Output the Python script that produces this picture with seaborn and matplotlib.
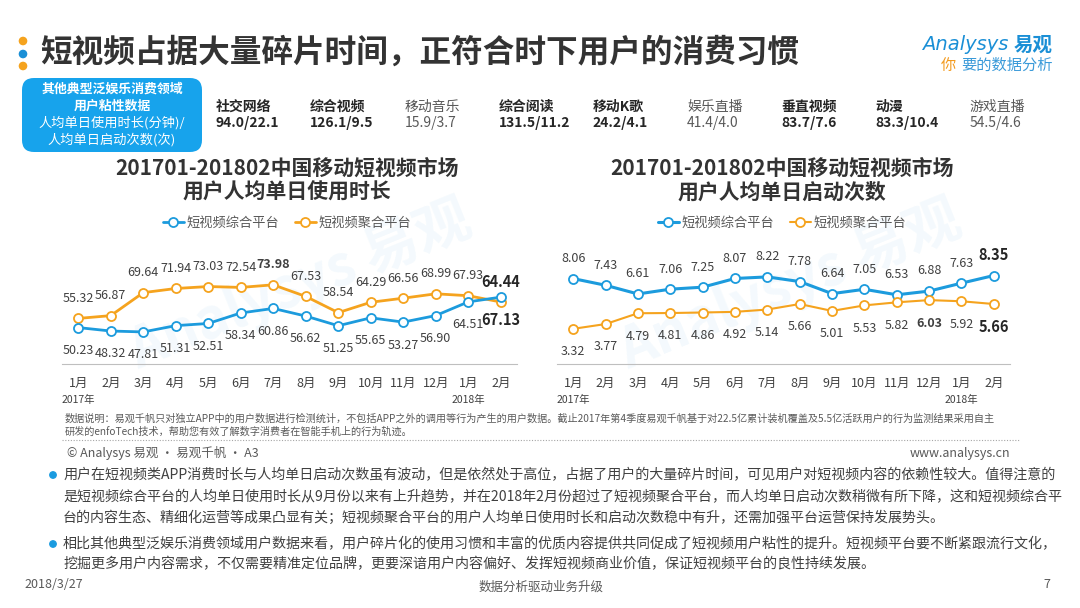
import matplotlib
matplotlib.use("Agg")
import matplotlib.pyplot as plt
from matplotlib.patches import FancyBboxPatch, Circle
import seaborn as sns

sns.set_style("white")
plt.rcParams['font.family'] = ['Noto Sans CJK SC', 'DejaVu Sans']
plt.rcParams['axes.unicode_minus'] = False

# === 数据 ===
months = ['1月', '2月', '3月', '4月', '5月', '6月', '7月', '8月', '9月', '10月', '11月', '12月', '1月', '2月']
dur_zonghe = [50.23, 48.32, 47.81, 51.31, 52.51, 58.34, 60.86, 56.62, 51.25, 55.65, 53.27, 56.90, 64.51, 67.13]
dur_juhe = [55.32, 56.87, 69.64, 71.94, 73.03, 72.54, 73.98, 67.53, 58.54, 64.29, 66.56, 68.99, 67.93, 64.44]
cnt_zonghe = [8.06, 7.43, 6.61, 7.06, 7.25, 8.07, 8.22, 7.78, 6.64, 7.05, 6.53, 6.88, 7.63, 8.35]
cnt_juhe = [3.32, 3.77, 4.79, 4.81, 4.86, 4.92, 5.14, 5.66, 5.01, 5.53, 5.82, 6.03, 5.92, 5.66]

# 其他泛娱乐领域 (时长/次数)
other_names = ['社交网络', '综合视频', '移动音乐', '综合阅读', '移动K歌', '娱乐直播', '垂直视频', '动漫', '游戏直播']
other_values = ['94.0/22.1', '126.1/9.5', '15.9/3.7', '131.5/11.2', '24.2/4.1', '41.4/4.0', '83.7/7.6', '83.3/10.4', '54.5/4.6']
other_bold = [True, True, False, True, True, False, True, True, False]

BLUE = '#1C9BDD'
ORANGE = '#F5A31E'
DARK = '#333333'
GRAY = '#595959'
LAB_ZH = '短视频综合平台'
LAB_JH = '短视频聚合平台'

W, H = 1080, 608
fig = plt.figure(figsize=(10.8, 6.08), dpi=100)

# 背景层，像素坐标
bg = fig.add_axes([0, 0, 1, 1])
bg.set_xlim(0, W)
bg.set_ylim(H, 0)
bg.axis('off')

# 标题 + 三个点
for yy, c in zip([41, 54, 66], [ORANGE, '#1A8FD6', ORANGE]):
    bg.add_patch(Circle((23, yy), 3.6, color=c))
bg.text(40, 53, '短视频占据大量碎片时间，正符合时下用户的消费习惯', fontsize=22.8,
        fontweight='bold', color=DARK, va='center', ha='left')

# logo
bg.text(922, 45, 'Analysys', fontsize=14, style='italic', color='#1A8FD6',
        va='center', ha='left', family=['DejaVu Sans'])
bg.text(1053, 45, '易观', fontsize=14, fontweight='bold', color='#1A8FD6', va='center', ha='right')
bg.text(941, 65, '你', fontsize=11, color='#F39A1E', va='center', ha='left')
bg.text(1053, 65, '要的数据分析', fontsize=11, color='#3A9AD9', va='center', ha='right')

# 左上蓝框
bg.add_patch(FancyBboxPatch((22, 78), 180, 74, boxstyle="round,pad=0,rounding_size=12",
                            fc='#17A3EC', ec='none'))
bg.text(112, 89, '其他典型泛娱乐消费领域', fontsize=9.3, fontweight='bold', color='white', ha='center', va='center')
bg.text(112, 106, '用户粘性数据', fontsize=9.3, fontweight='bold', color='white', ha='center', va='center')
bg.text(112, 123, '人均单日使用时长(分钟)/', fontsize=9.5, color='white', ha='center', va='center')
bg.text(112, 140, '人均单日启动次数(次)', fontsize=9.5, color='white', ha='center', va='center')

# 其他领域数据
for i, (n, v, b) in enumerate(zip(other_names, other_values, other_bold)):
    x0 = 216 + i * 94.2
    w = 'bold' if b else 'normal'
    c = '#262626' if b else GRAY
    bg.text(x0, 107, n, fontsize=10, fontweight=w, color=c, ha='left', va='center')
    bg.text(x0, 123, v, fontsize=10, fontweight=w, color=c, ha='left', va='center')

# 水印
for cx in [300, 790]:
    bg.text(cx, 285, 'Analysys 易观', fontsize=40, color='#1A8FD6', alpha=0.05,
            rotation=22, ha='center', va='center', fontweight='bold')


def draw_chart(rect, top_vals, low_vals, top_color, low_color, top_lab, low_lab,
               ylim, title_x, title2, lw_top, lw_low):
    ax = fig.add_axes(rect)
    ax.set_facecolor('none')
    x = list(range(len(months)))
    sns.lineplot(x=x, y=top_vals, ax=ax, color=top_color, marker='o', markersize=6.5,
                 markerfacecolor='white', markeredgecolor=top_color, markeredgewidth=1.3,
                 linewidth=lw_top, label=top_lab, zorder=3)
    sns.lineplot(x=x, y=low_vals, ax=ax, color=low_color, marker='o', markersize=6.5,
                 markerfacecolor='white', markeredgecolor=low_color, markeredgewidth=1.3,
                 linewidth=lw_low, label=low_lab, zorder=3)
    ax.set_xlim(-0.5, 13.5)
    ax.set_ylim(*ylim)
    ax.set_yticks([])
    ax.set_xticks(x, months)
    ax.tick_params(axis='x', length=0, pad=9, labelsize=9, labelcolor='#404040')
    for s in ['top', 'left', 'right']:
        ax.spines[s].set_visible(False)
    ax.spines['bottom'].set_color('#BFBFBF')
    ax.spines['bottom'].set_linewidth(0.8)

    for vals, dy in [(top_vals, 14.5), (low_vals, -16.5)]:
        vmax = max(vals)
        for i, v in enumerate(vals):
            last = i == len(vals) - 1
            ax.annotate(f'{v:.2f}', xy=(i, v), xytext=(0, dy), textcoords='offset points',
                        ha='center', va='center',
                        fontsize=10.5 if last else 9,
                        fontweight='bold' if (last or v == vmax) else 'normal',
                        color='#262626' if last else '#404040')

    for i, yr in [(0, '2017年'), (12, '2018年')]:
        ax.annotate(yr, xy=(i, 0), xycoords=('data', 'axes fraction'), xytext=(0, -26),
                    textcoords='offset points', ha='center', va='center', fontsize=7.5,
                    color='#404040')

    # 图例顺序：综合在前，聚合在后
    handles, labels = ax.get_legend_handles_labels()
    order = [labels.index(LAB_ZH), labels.index(LAB_JH)]
    leg = ax.legend([handles[k] for k in order], [labels[k] for k in order],
                    loc='center', bbox_to_anchor=(title_x / W, 1 - 223 / H),
                    bbox_transform=fig.transFigure, ncol=2, frameon=False, fontsize=9.5,
                    handlelength=1.6, handletextpad=0.2, columnspacing=1.2)
    for t in leg.get_texts():
        t.set_color(GRAY)

    bg.text(title_x, 168, '201701-201802中国移动短视频市场', fontsize=15, fontweight='bold',
            color=DARK, ha='center', va='center')
    bg.text(title_x, 192, title2, fontsize=15, fontweight='bold', color=DARK,
            ha='center', va='center')
    return ax


ax_h = (364 - 245) / H
draw_chart([62 / W, 1 - 364 / H, 455 / W, ax_h], dur_juhe, dur_zonghe, ORANGE, BLUE,
           LAB_JH, LAB_ZH, (30, 96.1), 287, '用户人均单日使用时长', 2.0, 2.0)
draw_chart([557 / W, 1 - 364 / H, 453 / W, ax_h], cnt_zonghe, cnt_juhe, BLUE, ORANGE,
           LAB_ZH, LAB_JH, (0, 11.23), 782, '用户人均单日启动次数', 2.2, 1.5)

# 数据说明
bg.text(65, 419, '数据说明：易观千帆只对独立APP中的用户数据进行检测统计，不包括APP之外的调用等行为产生的用户数据。'
        '截止2017年第4季度易观千帆基于对22.5亿累计装机覆盖及5.5亿活跃用户的行为监测结果采用自主',
        fontsize=7.3, color=GRAY, ha='left', va='center')
bg.text(65, 432, '研发的enfoTech技术，帮助您有效了解数字消费者在智能手机上的行为轨迹。',
        fontsize=7.3, color=GRAY, ha='left', va='center')
bg.plot([62, 1019], [440, 440], ls=(0, (1, 1.5)), color='#A6A6A6', lw=0.8)
bg.text(67, 453, '© Analysys 易观 · 易观千帆 · A3', fontsize=9, color=GRAY, ha='left', va='center')
bg.text(1010, 453, 'www.analysys.cn', fontsize=9, color=GRAY, ha='right', va='center')

# 正文
para = [
    (475, '用户在短视频类APP消费时长与人均单日启动次数虽有波动，但是依然处于高位，占据了用户的大量碎片时间，可见用户对短视频内容的依赖性较大。值得注意的', True),
    (497, '是短视频综合平台的人均单日使用时长从9月份以来有上升趋势，并在2018年2月份超过了短视频聚合平台，而人均单日启动次数稍微有所下降，这和短视频综合平', False),
    (518, '台的内容生态、精细化运营等成果凸显有关；短视频聚合平台的用户人均单日使用时长和启动次数稳中有升，还需加强平台运营保持发展势头。', False),
    (544, '相比其他典型泛娱乐消费领域用户数据来看，用户碎片化的使用习惯和丰富的优质内容提供共同促成了短视频用户粘性的提升。短视频平台要不断紧跟流行文化，', True),
    (564, '挖掘更多用户内容需求，不仅需要精准定位品牌，更要深谙用户内容偏好、发挥短视频商业价值，保证短视频平台的良性持续发展。', False),
]
for yy, line, bullet in para:
    if bullet:
        bg.add_patch(Circle((53, yy), 3.2, color='#1A9BE0'))
    bg.text(63, yy, line, fontsize=10.1, color='#404040', ha='left', va='center')

# 页脚
bg.text(24, 585, '2018/3/27', fontsize=9, color=GRAY, ha='left', va='center')
bg.text(541, 587, '数据分析驱动业务升级', fontsize=9, color=GRAY, ha='center', va='center')
bg.text(1050, 585, '7', fontsize=9, color=GRAY, ha='right', va='center')

fig.savefig('out.png', dpi=100)
